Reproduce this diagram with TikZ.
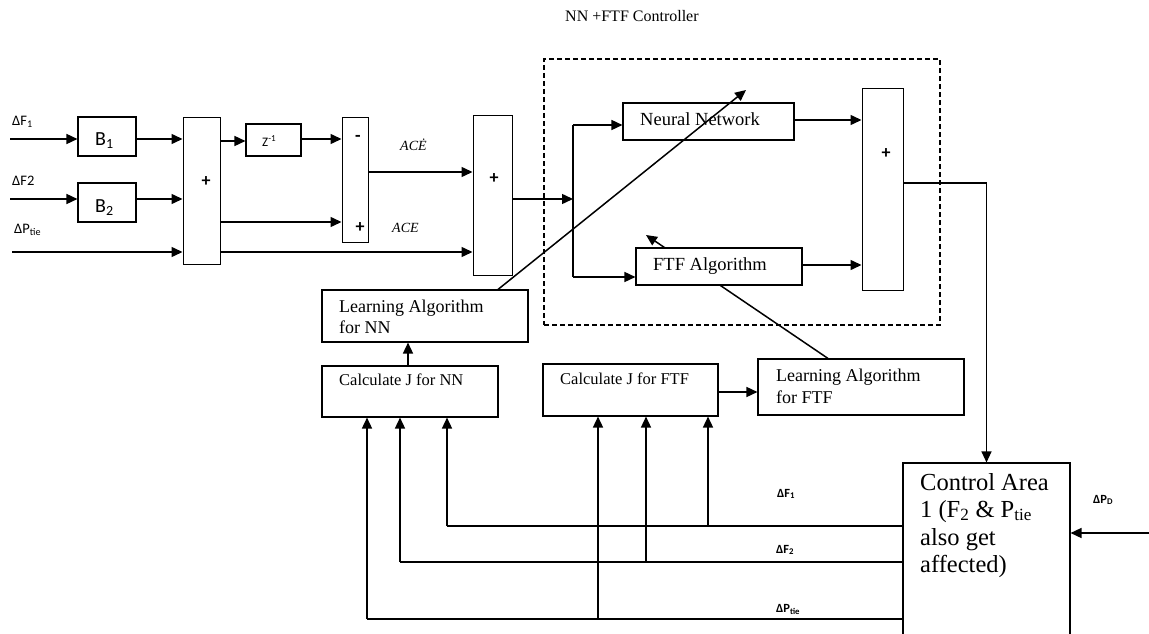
\documentclass[tikz,border=0pt]{standalone}
\usepackage{fontspec}
\setmainfont{Liberation Serif}
\newfontfamily\carl{Carlito}
\usetikzlibrary{arrows.meta,backgrounds}
\newcommand\fsz[1]{\fontsize{#1}{#1}\selectfont}

\begin{document}
\begin{tikzpicture}[x=1pt,y=-1pt,
  box/.style={draw, line width=1.1pt, inner sep=0pt},
  sumbox/.style={draw, line width=1pt, inner sep=0pt},
  arr/.style={line width=1.5pt, -{Triangle[length=11pt,width=10pt]}},
  wire/.style={line width=1.3pt},
  lbl/.style={inner sep=0pt, anchor=base west},
  sym/.style={inner sep=0pt, font=\carl\bfseries\fsz{18}},
  sig/.style={lbl, font=\carl\bfseries\fsz{12.5}},
  insig/.style={lbl, font=\carl\fsz{14.5}},
]
\path[use as bounding box, clip] (0,0) rectangle (1149,634);

% ---- title and controller frame
\node[lbl, font=\fsz{16}] (title) at (565,22) {NN +FTF Controller};
\node[draw, line width=1.7pt, dash pattern=on 5pt off 3pt, minimum width=396pt, minimum height=266pt] (ctrl) at (742,192) {};

% ---- blocks
\node[box, minimum width=58pt, minimum height=39pt] (b1) at (107,136.5) {};
\node[box, minimum width=58pt, minimum height=39pt] (b2) at (107,202.5) {};
\node[sumbox, minimum width=37pt, minimum height=147pt] (s1) at (201.5,190.5) {};
\node[box, minimum width=55pt, minimum height=32pt] (z) at (273.5,140) {};
\node[sumbox, minimum width=26pt, minimum height=125pt] (s2) at (355,179.5) {};
\node[sumbox, minimum width=39pt, minimum height=160pt] (s3) at (492.5,195) {};
\node[box, minimum width=171pt, minimum height=37pt] (nn) at (708.5,121.5) {};
\node[box, fill=white, minimum width=166pt, minimum height=37pt] (ftf) at (719,266.5) {};
\node[sumbox, minimum width=41pt, minimum height=201pt] (s4) at (882.5,189.5) {};
\node[box, minimum width=206pt, minimum height=52pt] (lnn) at (425,316) {};
\node[box, minimum width=176pt, minimum height=51pt] (cjnn) at (410,391.5) {};
\node[box, minimum width=175pt, minimum height=52pt] (cjftf) at (630.5,390) {};
\node[box, minimum width=206pt, minimum height=56pt] (lftf) at (861,387) {};
\node[box, minimum width=167pt, minimum height=217pt] (ca) at (986.5,571.5) {};

% ---- block texts
\node[lbl, font=\carl\fsz{20}] (b1t) at (95,145) {B\textsubscript{1}};
\node[lbl, font=\carl\fsz{20}] (b2t) at (95,212) {B\textsubscript{2}};
\node[lbl, font=\carl\fsz{13}] (zt) at (262,146) {Z\textsuperscript{-1}};
\node[sym] (p1) at (206,182) {+};
\node[sym] (m2) at (358,138) {-};
\node[sym] (p2) at (360,228) {+};
\node[sym] (p3) at (494,179) {+};
\node[sym] (p4) at (886,154) {+};
\node[lbl, font=\fsz{18.5}] (nnt) at (640,125) {Neural Network};
\node[lbl, font=\fsz{18.5}] (ftft) at (653,270) {FTF Algorithm};
\node[lbl, font=\fsz{18}] (lnn1) at (339,312) {Learning Algorithm};
\node[lbl, font=\fsz{18}] (lnn2) at (339,333) {for NN};
\node[lbl, font=\fsz{16.5}] (cjnnt) at (339,385) {Calculate J for NN};
\node[lbl, font=\fsz{16.5}] (cjftft) at (560,384) {Calculate J for FTF};
\node[lbl, font=\fsz{18}] (lftf1) at (776,381) {Learning Algorithm};
\node[lbl, font=\fsz{18}] (lftf2) at (776,403) {for FTF};
\node[lbl, font=\fsz{24.5}] (ca1) at (920,490) {Control Area};
\node[lbl, font=\fsz{24.5}] (ca2) at (920,517) {1 (F\textsubscript{2} \& P\textsubscript{tie}};
\node[lbl, font=\fsz{24.5}] (ca3) at (920,545) {also get};
\node[lbl, font=\fsz{24.5}] (ca4) at (920,572) {affected)};

% ---- signal labels
\node[insig] (lf1) at (12,125) {ΔF\textsubscript{1}};
\node[insig] (lf2) at (12,185) {ΔF2};
\node[insig] (lpt) at (14,233) {ΔP\textsubscript{tie}};
\node[lbl, font=\itshape\fsz{14}] (aced) at (400,150) {ACĖ};
\node[lbl, font=\itshape\fsz{14}] (ace) at (392,232) {ACE};
\node[sig] (df1) at (777,497) {ΔF\textsubscript{1}};
\node[sig] (df2) at (776,553) {ΔF\textsubscript{2}};
\node[sig] (dpt) at (776,612) {ΔP\textsubscript{tie}};
\node[sig] (dpd) at (1093,503) {ΔP\textsubscript{D}};

% ---- signal levels
\coordinate (inA) at (10,139);
\coordinate (inB) at (10,199);
\coordinate (inC) at (12,252);
\coordinate (yZ) at (0,141);
\coordinate (yZo) at (0,139);
\coordinate (yP) at (0,222);
\coordinate (yD) at (0,172);
\coordinate (jn) at (573,199);
\coordinate (jtop) at (573,125);
\coordinate (jbot) at (573,277);
\coordinate (yN) at (0,120);
\coordinate (yF) at (0,265);
\coordinate (yO) at (0,183);
\coordinate (pd) at (1149,533);
\coordinate (f1) at (447,526);
\coordinate (f2) at (400,562);
\coordinate (f3) at (367,619);
\coordinate (g1) at (708,526);
\coordinate (g2) at (646,562);
\coordinate (g3) at (598,619);
\coordinate (xu) at (408,0);
\coordinate (yL) at (0,392);
\coordinate (xd1) at (498,0);
\coordinate (xd2) at (828,0);
\coordinate (dnn) at (746,90);
\coordinate (dftf) at (646,235);

% ---- input side
\draw[arr] (inA) -- (inA -| b1.west);
\draw[arr] (b1.east |- inA) -- (s1.west |- inA);
\draw[arr] (inB) -- (inB -| b2.west);
\draw[arr] (b2.east |- inB) -- (s1.west |- inB);
\draw[arr] (inC) -- (inC -| s1.west);
\draw[arr] (s1.east |- yZ) -- (z.west |- yZ);
\draw[arr] (z.east |- yZo) -- (s2.west |- yZo);
\draw[arr] (s1.east |- yP) -- (s2.west |- yP);
\draw[arr] (s1.east |- inC) -- (s3.west |- inC);
\draw[arr] (s2.east |- yD) -- (s3.west |- yD);
\draw[arr] (s3.east |- jn) -- (jn);

% ---- controller
\draw[wire] (jtop) -- (jbot);
\draw[arr] (jtop) -- (nn.west |- jtop);
\draw[arr] (jbot) -- (ftf.west |- jbot);
\draw[arr] (nn.east |- yN) -- (s4.west |- yN);
\draw[arr] (ftf.east |- yF) -- (s4.west |- yF);
\draw[arr, line width=1.2pt] (s4.east |- yO) -| (ca.north);
\draw[arr] (pd) -- (pd -| ca.east);

% ---- learning paths
\draw[arr] (cjnn.north -| xu) -- (lnn.south -| xu);
\draw[arr] (cjftf.east |- yL) -- (lftf.west |- yL);
\draw[arr] (lnn.north -| xd1) -- (dnn);
\begin{pgfonlayer}{background}
\draw[arr] (lftf.north -| xd2) -- (dftf);
\end{pgfonlayer}

% ---- feedback from the plant
\draw[wire] (ca.west |- f1) -- (f1);
\draw[wire] (ca.west |- f2) -- (f2);
\draw[wire] (ca.west |- f3) -- (f3);
\draw[arr] (f1) -- (f1 |- cjnn.south);
\draw[arr] (f2) -- (f2 |- cjnn.south);
\draw[arr] (f3) -- (f3 |- cjnn.south);
\draw[arr] (g1) -- (g1 |- cjftf.south);
\draw[arr] (g2) -- (g2 |- cjftf.south);
\draw[arr] (g3) -- (g3 |- cjftf.south);
\end{tikzpicture}
\end{document}
